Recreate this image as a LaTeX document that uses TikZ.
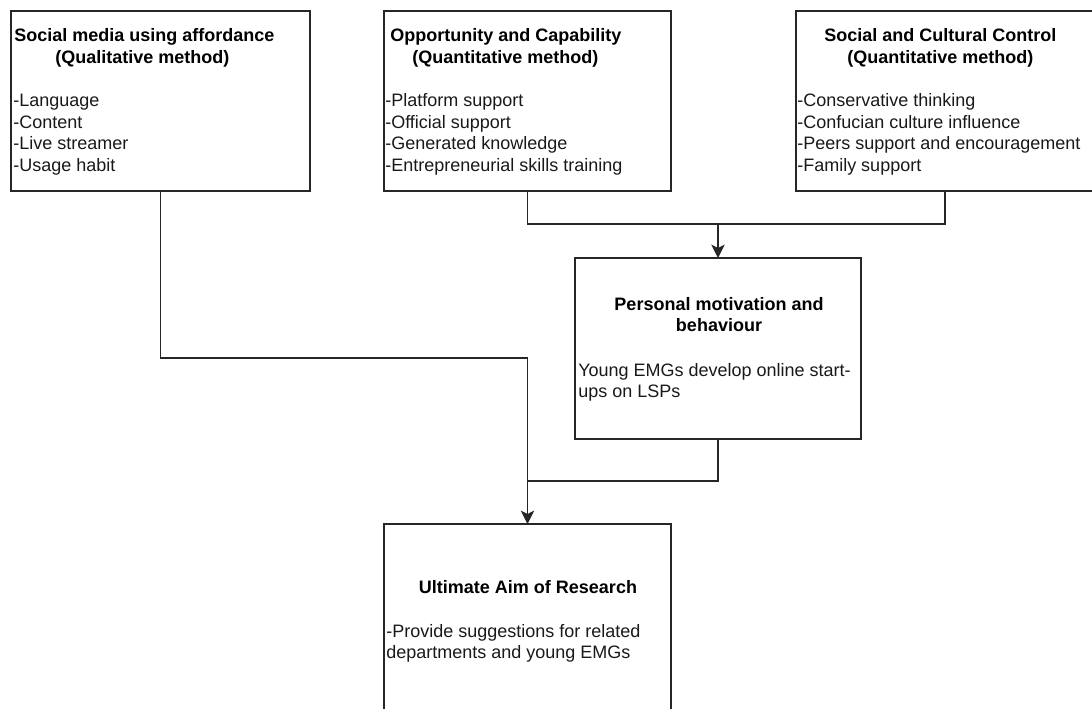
\documentclass[tikz,border=0pt]{standalone}
\usepackage{fontspec}
\setmainfont{Liberation Sans}
\usetikzlibrary{arrows.meta}
\begin{document}
\begin{tikzpicture}[x=0.75pt,y=-0.75pt,
  box/.style={draw=black!85, line width=1pt, anchor=north west, outer sep=0pt, inner sep=0pt},
  txt/.style={anchor=mid west, inner sep=0pt, font=\fontsize{13.5}{16}\selectfont, text=black!90},
  head/.style={txt, font=\fontsize{13.5}{16}\selectfont\bfseries, text=black},
  ctr/.style={anchor=mid, inner sep=0pt, font=\fontsize{13.5}{16}\selectfont\bfseries, text=black},
  link/.style={draw=black!85, line width=1pt},
  arr/.style={link, -{Stealth[length=10pt,width=10pt,inset=2.5pt]}}]
\useasboundingbox (0,0) rectangle (1092,708);
\clip (0,0) rectangle (1092,708);

% boxes
\node[box, minimum width=224.25pt, minimum height=135pt] (b1) at (11,11) {};
\node[box, minimum width=215.25pt, minimum height=135pt] (b2) at (384,11) {};
\node[box, minimum width=223.5pt, minimum height=135pt] (b3) at (796,11) {};
\node[box, minimum width=214.5pt, minimum height=135.75pt] (b4) at (575,258) {};
\node[box, minimum width=215.25pt, minimum height=154.5pt] (b5) at (384,524) {};

% box 1 text
\node[head] (t1a) at (14,38) {Social media using affordance};
\node[head] (t1b) at (55,60) {(Qualitative method)};
\node[txt] (t1c) at (13,103) {-Language};
\node[txt] (t1d) at (13,125) {-Content};
\node[txt] (t1e) at (13,146) {-Live streamer};
\node[txt] (t1f) at (13,168) {-Usage habit};

% box 2 text
\node[head] (t2a) at (390,38) {Opportunity and Capability};
\node[head] (t2b) at (412,60) {(Quantitative method)};
\node[txt] (t2c) at (385,103) {-Platform support};
\node[txt] (t2d) at (385,125) {-Official support};
\node[txt] (t2e) at (385,146) {-Generated knowledge};
\node[txt] (t2f) at (385,168) {-Entrepreneurial skills training};

% box 3 text
\node[head] (t3a) at (824,38) {Social and Cultural Control};
\node[head] (t3b) at (847,60) {(Quantitative method)};
\node[txt] (t3c) at (797,103) {-Conservative thinking};
\node[txt] (t3d) at (797,125) {-Confucian culture influence};
\node[txt] (t3e) at (797,146) {-Peers support and encouragement};
\node[txt] (t3f) at (797,168) {-Family support};

% box 4 text
\node[ctr] (t4a) at (719,307) {Personal motivation and};
\node[ctr] (t4b) at (719,328) {behaviour};
\node[txt] (t4c) at (578,373) {Young EMGs develop online start-};
\node[txt] (t4d) at (578,394) {ups on LSPs};

% box 5 text
\node[ctr] (t5a) at (528,590) {Ultimate Aim of Research};
\node[txt] (t5b) at (386,634) {-Provide suggestions for related};
\node[txt] (t5c) at (386,655) {departments and young EMGs};

% connectors
\coordinate (j1) at (718,224);
\coordinate (j2) at (527.5,358);
\coordinate (j3) at (527.5,481);
\draw[link] (b2.south) |- (j1);
\draw[link] (b3.south) |- (j1);
\draw[arr] (j1) -- (b4.north);
\draw[link] (b1.south) |- (j2);
\draw[link] (b4.south) |- (j3);
\draw[arr] (j2) -- (b5.north);
\end{tikzpicture}
\end{document}
